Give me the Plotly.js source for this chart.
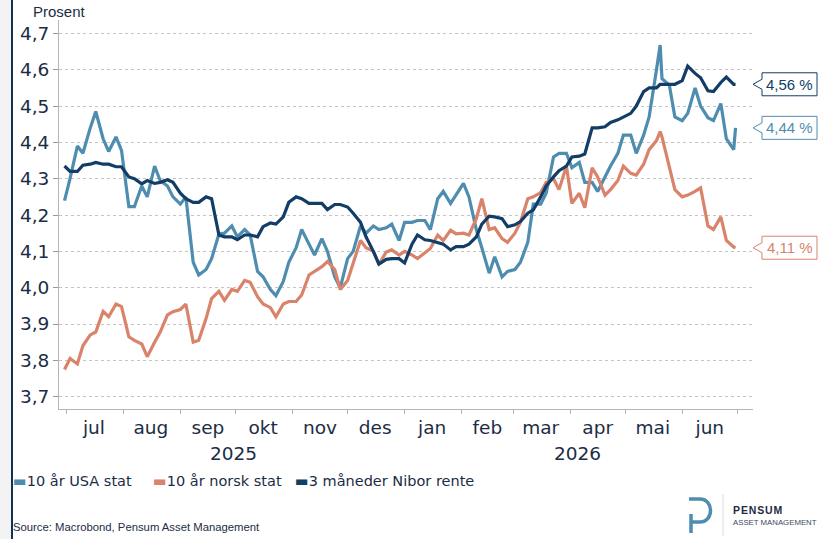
<!DOCTYPE html>
<html><head><meta charset="utf-8">
<script src="https://cdn.plot.ly/plotly-3.0.1.min.js"></script>
<style>
html,body{margin:0;padding:0;}
body{width:820px;height:539px;overflow:hidden;background:linear-gradient(to right,#f3f3f3 0,#f3f3f3 11px,#0e3357 11px,#0e3357 13px,#ffffff 13px);}
#chart{width:820px;height:539px;}
</style></head><body><div id="chart"></div>
<script>
const dates = ['2025-06-30','2025-07-03','2025-07-07','2025-07-10','2025-07-14','2025-07-17','2025-07-21','2025-07-24','2025-07-28','2025-07-31',
'2025-08-04','2025-08-07','2025-08-11','2025-08-14','2025-08-18','2025-08-21','2025-08-25','2025-08-28',
'2025-09-01','2025-09-04','2025-09-08','2025-09-11','2025-09-15','2025-09-18','2025-09-22','2025-09-25','2025-09-29',
'2025-10-02','2025-10-06','2025-10-09','2025-10-13','2025-10-16','2025-10-20','2025-10-23','2025-10-27','2025-10-30',
'2025-11-03','2025-11-06','2025-11-10','2025-11-13','2025-11-17','2025-11-20','2025-11-24','2025-11-27',
'2025-12-01','2025-12-04','2025-12-08','2025-12-11','2025-12-15','2025-12-18','2025-12-22','2025-12-25','2025-12-29',
'2026-01-01','2026-01-05','2026-01-08','2026-01-12','2026-01-15','2026-01-19','2026-01-22','2026-01-26','2026-01-29',
'2026-02-02','2026-02-05','2026-02-09','2026-02-12','2026-02-16','2026-02-19','2026-02-23','2026-02-26',
'2026-03-02','2026-03-05','2026-03-09','2026-03-12','2026-03-16','2026-03-19','2026-03-23','2026-03-26','2026-03-30',
'2026-04-02','2026-04-06','2026-04-09','2026-04-13','2026-04-16','2026-04-20','2026-04-23','2026-04-27','2026-04-30',
'2026-05-04','2026-05-07','2026-05-11','2026-05-14','2026-05-18','2026-05-20','2026-05-21','2026-05-25','2026-05-28',
'2026-06-01','2026-06-04','2026-06-08','2026-06-11','2026-06-15','2026-06-18','2026-06-22','2026-06-25','2026-06-29','2026-06-30'];

const usa10y = [4.24,4.30,4.39,4.37,4.44,4.485,4.41,4.375,4.415,4.378,
4.223,4.223,4.28,4.25,4.335,4.295,4.28,4.25,
4.23,4.25,4.07,4.035,4.05,4.08,4.148,4.15,4.17,
4.14,4.16,4.145,4.045,4.03,3.995,3.978,4.017,4.07,
4.11,4.16,4.12,4.09,4.135,4.10,4.03,4.00,
4.08,4.10,4.17,4.15,4.17,4.16,4.165,4.175,4.13,
4.18,4.18,4.185,4.185,4.16,4.245,4.265,4.232,4.255,
4.287,4.25,4.16,4.11,4.04,4.085,4.03,4.045,
4.05,4.07,4.125,4.23,4.23,4.26,4.36,4.37,4.37,
4.33,4.345,4.29,4.29,4.265,4.305,4.335,4.37,4.42,
4.42,4.37,4.42,4.47,4.60,4.668,4.575,4.558,4.47,
4.46,4.48,4.55,4.50,4.468,4.46,4.507,4.41,4.38,4.44];

const nor10y = [3.775,3.805,3.79,3.84,3.87,3.878,3.935,3.92,3.955,3.948,
3.865,3.855,3.845,3.81,3.85,3.877,3.925,3.934,
3.94,3.955,3.85,3.855,3.915,3.97,3.99,3.965,3.995,
3.99,4.02,4.015,3.975,3.955,3.945,3.92,3.955,3.962,
3.962,3.98,4.035,4.044,4.058,4.072,4.05,3.995,
4.02,4.067,4.13,4.11,4.10,4.065,4.098,4.104,4.09,
4.10,4.09,4.08,4.097,4.108,4.145,4.13,4.158,4.148,
4.15,4.145,4.19,4.245,4.16,4.165,4.135,4.125,
4.15,4.18,4.245,4.25,4.262,4.29,4.30,4.27,4.335,
4.232,4.26,4.22,4.33,4.305,4.255,4.27,4.295,4.335,
4.315,4.31,4.34,4.38,4.405,4.43,4.415,4.33,4.27,
4.25,4.255,4.265,4.275,4.17,4.16,4.195,4.13,4.112,4.11];

const nibor3m = [4.335,4.32,4.32,4.337,4.34,4.345,4.34,4.34,4.333,4.333,
4.305,4.30,4.286,4.295,4.287,4.29,4.297,4.29,
4.26,4.245,4.235,4.235,4.25,4.245,4.145,4.14,4.14,
4.132,4.145,4.145,4.14,4.168,4.178,4.175,4.195,4.235,
4.25,4.245,4.232,4.232,4.232,4.215,4.229,4.229,
4.222,4.205,4.18,4.14,4.10,4.065,4.078,4.08,4.08,
4.068,4.12,4.145,4.132,4.13,4.125,4.12,4.104,4.113,
4.113,4.12,4.14,4.175,4.197,4.195,4.19,4.168,
4.173,4.182,4.205,4.214,4.25,4.28,4.305,4.322,4.335,
4.36,4.362,4.368,4.44,4.44,4.443,4.455,4.462,4.47,
4.48,4.50,4.54,4.55,4.55,4.56,4.56,4.56,4.56,
4.57,4.61,4.59,4.578,4.542,4.54,4.565,4.58,4.56,4.56];

const seriesNames = ['10 år USA stat','10 år norsk stat','3 måneder Nibor rente'];
const seriesColors = ['#4f8db0','#d9836b','#123d66'];
const monthLabels = ['jul','aug','sep','okt','nov','des','jan','feb','mar','apr','mai','jun'];
const monthMids = ['2025-07-16','2025-08-16','2025-09-16','2025-10-16','2025-11-16','2025-12-16','2026-01-16','2026-02-15','2026-03-16','2026-04-16','2026-05-16','2026-06-16'];
const monthStarts = ['2025-07-01','2025-08-01','2025-09-01','2025-10-01','2025-11-01','2025-12-01','2026-01-01','2026-02-01','2026-03-01','2026-04-01','2026-05-01','2026-06-01','2026-07-01'];
const yearLabels = ['2025','2026'];
const yearPos = ['2025-09-30','2026-04-05'];

const textColor = '#1b2d45';
const allSeries = [usa10y, nor10y, nibor3m];

const traces = allSeries.map((v,i)=>({
  x: dates, y: v, type:'scatter', mode:'lines', name: seriesNames[i],
  line:{color:seriesColors[i], width:3.2}, showlegend:false
}));

// pixel helpers for decorations (plot area: x 59..753, y 20..409)
const L=59, R=753, T=20, B=409;
const px = x => (x-L)/(R-L);
const py = y => (B-y)/(B-T);

const shapes = [];
const annotations = [];

// end labels
allSeries.forEach((v,i)=>{
  const last = v[v.length-1];
  shapes.push({type:'path', xref:'paper', yref:'y', xsizemode:'pixel', ysizemode:'pixel',
    xanchor:1, yanchor:last,
    path:'M0,0 L9,-5 L9,-11.5 L64,-11.5 L64,11.5 L9,11.5 L9,5 Z',
    fillcolor:'#ffffff', line:{color:seriesColors[i], width:1}, layer:'above'});
  annotations.push({xref:'paper', yref:'y', x:px(789.5), y:last, xanchor:'center', yanchor:'middle',
    text: last.toFixed(2).replace('.',',')+' %', showarrow:false,
    font:{family:'Liberation Sans, Arial, sans-serif', size:15, color:seriesColors[i]}});
});

// legend (series names + colour swatches)
const legendLeft = [13, 153, 295];
seriesNames.forEach((n,i)=>annotations.push({xref:'paper', yref:'paper', x:px(legendLeft[i]), y:py(481), xanchor:'left', yanchor:'middle',
  xshift:-2,
  text:`<span style="color:${seriesColors[i]}">▬</span>${n}`, showarrow:false,
  font:{family:'DejaVu Sans, sans-serif', size:14.5, color:textColor}}));

// year labels
yearLabels.forEach((t,i)=>annotations.push({xref:'x', yref:'paper', x:yearPos[i], y:py(453), xanchor:'center', yanchor:'middle',
  text:t, showarrow:false, font:{family:'DejaVu Sans, sans-serif', size:18.5, color:textColor}}));

// axis title "Prosent"
annotations.push({xref:'paper', yref:'paper', x:px(59.5), y:py(11), xanchor:'center', yanchor:'middle', text:'Prosent', showarrow:false,
  font:{family:'Liberation Sans, Arial, sans-serif', size:15, color:textColor}});

// source
annotations.push({xref:'paper', yref:'paper', x:px(136), y:py(527), xanchor:'center', yanchor:'middle', text:'Source: Macrobond, Pensum Asset Management', showarrow:false,
  font:{family:'Liberation Sans, Arial, sans-serif', size:11.3, color:textColor}});

// logo
shapes.push({type:'path', xref:'paper', yref:'paper',
  path:`M${px(689)},${py(499)} L${px(700)},${py(499)} C${px(714)},${py(499)} ${px(714)},${py(522)} ${px(700)},${py(522)} L${px(692)},${py(522)}`,
  line:{color:'#4f8db0', width:3.5}});
shapes.push({type:'line', xref:'paper', yref:'paper', x0:px(691), x1:px(691), y0:py(514), y1:py(533), line:{color:'#4f8db0', width:3.5}});
shapes.push({type:'line', xref:'paper', yref:'paper', x0:px(723), x1:px(723), y0:py(494), y1:py(536), line:{color:'#dcdcdc', width:1}});
annotations.push({xref:'paper', yref:'paper', x:px(757.5), y:py(510), xanchor:'center', yanchor:'middle', text:'<b>P&#8202;E&#8202;N&#8202;S&#8202;U&#8202;M</b>', showarrow:false,
  font:{family:'Liberation Sans, Arial, sans-serif', size:10.5, color:textColor}});
annotations.push({xref:'paper', yref:'paper', x:px(774.5), y:py(522), xanchor:'center', yanchor:'middle', text:'ASSET MANAGEMENT', showarrow:false,
  font:{family:'Liberation Sans, Arial, sans-serif', size:7.8, color:'#3a4a5e'}});

const layout = {
  width:820, height:539,
  margin:{l:L, r:820-R, t:T, b:539-B, pad:0},
  paper_bgcolor:'rgba(0,0,0,0)', plot_bgcolor:'#ffffff',
  separators:', ',
  showlegend:false,
  xaxis:{type:'date', range:['2025-06-27','2026-07-09 12:00'],
    tickmode:'array', tickvals:monthMids, ticktext:monthLabels, ticks:'', ticklabelstandoff:2,
    tickfont:{family:'DejaVu Sans, sans-serif', size:18.5, color:textColor},
    showgrid:false, zeroline:false, showline:true, linecolor:'#b5b5b5', linewidth:1,
    minor:{tickmode:'array', tickvals:monthStarts, ticks:'outside', ticklen:4, tickcolor:'#b5b5b5', showgrid:false}},
  yaxis:{range:[3.666,4.737], tickmode:'linear', tick0:3.7, dtick:0.1, tickformat:'.1f',
    ticks:'outside', ticklen:5, tickcolor:'#9a9a9a',
    tickfont:{family:'DejaVu Sans, sans-serif', size:18.5, color:textColor},
    showgrid:true, gridcolor:'#c4c4c4', griddash:'dot', gridwidth:1,
    zeroline:false, showline:true, linecolor:'#b5b5b5', linewidth:1},
  shapes:shapes, annotations:annotations
};

Plotly.newPlot('chart', traces, layout, {displayModeBar:false, staticPlot:true});
</script></body></html>
